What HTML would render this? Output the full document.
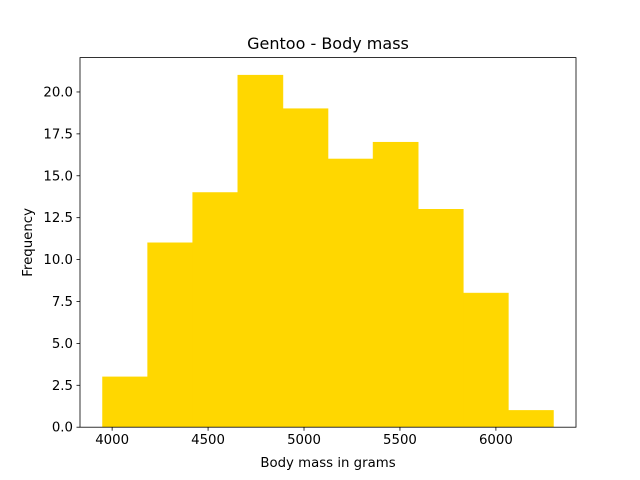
<!DOCTYPE html>
<html><head><meta charset="utf-8"><style>body{margin:0;background:#fff}svg{display:block;font-family:"DejaVu Sans","Liberation Sans",sans-serif}</style></head>
<body>
<svg id="chart" width="640" height="480"></svg>
<script>
const binStart = 3950;
const binEnd = 6300;
const counts = [3, 11, 14, 21, 19, 16, 17, 13, 8, 1];
const xTicks = [4000, 4500, 5000, 5500, 6000];
const yTicks = [0, 2.5, 5, 7.5, 10, 12.5, 15, 17.5, 20];

const svg = document.getElementById('chart');
const NS = 'http://www.w3.org/2000/svg';
const L = 80, R = 576, T = 57.6, B = 427.2;
const span = binEnd - binStart;
const xMin = binStart - span * 0.05, xMax = binEnd + span * 0.05;
const yMax = Math.max(...counts) * 1.05;
const xs = v => L + (v - xMin) / (xMax - xMin) * (R - L);
const ys = v => B - v / yMax * (B - T);
function mk(tag, attrs, parent) {
  const e = document.createElementNS(NS, tag);
  for (const k in attrs) e.setAttribute(k, attrs[k]);
  (parent || svg).appendChild(e);
  return e;
}
const bw = span / counts.length;
const bars = mk('g', {});


counts.forEach((c, i) => {
  const x0 = xs(binStart + i * bw), x1 = xs(binStart + (i + 1) * bw);
  const r = mk('rect', {x: x0, y: ys(c), width: x1 - x0, height: B - ys(c), fill: '#ffd700', stroke: '#ffd700', 'stroke-width': 0.6}, bars);
  
  
});
const frame = mk('rect', {x: L, y: T, width: R - L, height: B - T, fill: 'none', stroke: '#000', 'stroke-width': 0.8});


xTicks.forEach(t => {
  const x = xs(t);
  mk('line', {x1: x, x2: x, y1: B, y2: B + 3.5, stroke: '#000', 'stroke-width': 0.8});
  const tx = mk('text', {x: x, y: B + 17, 'font-size': 13.3, 'text-anchor': 'middle'});
  tx.textContent = t;
  
  
});
yTicks.forEach(t => {
  const y = ys(t);
  mk('line', {x1: L - 3.5, x2: L, y1: y, y2: y, stroke: '#000', 'stroke-width': 0.8});
  const tx = mk('text', {x: L - 7, y: y + 4.5, 'font-size': 13.3, 'text-anchor': 'end'});
  tx.textContent = t.toFixed(1);
  
  
});
const title = mk('text', {x: (L + R) / 2, y: 49, 'font-size': 16, 'text-anchor': 'middle'});
title.textContent = 'Gentoo - Body mass';


const xl = mk('text', {x: (L + R) / 2, y: 467, 'font-size': 13.3, 'text-anchor': 'middle'});
xl.textContent = 'Body mass in grams';


const yl = mk('text', {x: 32, y: (T + B) / 2, 'font-size': 13.3, 'text-anchor': 'middle', transform: 'rotate(-90 32 ' + (T + B) / 2 + ')'});
yl.textContent = 'Frequency';


</script>
</body></html>
